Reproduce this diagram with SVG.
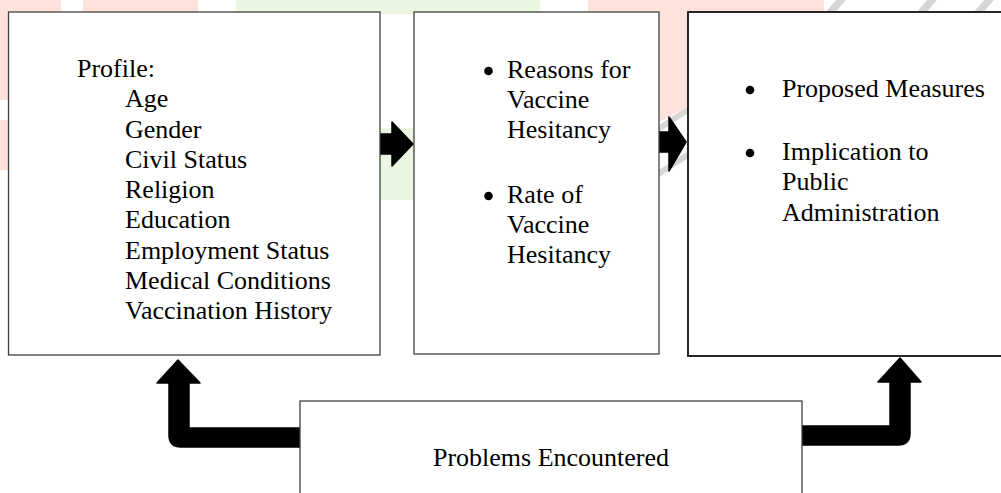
<svg xmlns="http://www.w3.org/2000/svg" width="1001" height="493" viewBox="0 0 1001 493">
<style>
.box{fill:#fff;stroke:#404040;stroke-width:1.3}
.box3{fill:#fff;stroke:#111;stroke-width:1.8}
.t{font-family:"Liberation Serif","Times New Roman",serif;font-size:26px;fill:#000}
.b{fill:#000}
.arr{fill:#000;stroke:#000;stroke-width:1.5;stroke-linejoin:round}
.wp{fill:#ffe1dc}.wg{fill:#ebf6e1}.wgr{fill:#d6d6d6}
</style>
<g id="watermark">
<rect class="wp" x="0" y="0" width="61" height="14"/>
<rect class="wp" x="83" y="0" width="115" height="14"/>
<rect class="wp" x="0" y="0" width="9" height="100"/>
<rect class="wp" x="0" y="120" width="9" height="50"/>
<path class="wg" d="M236,0 L540,0 L540,14 L236,14 Z"/>
<rect class="wg" x="380" y="128" width="34" height="72"/>
<path class="wp" d="M588,0 L824,0 L824,14 L700,14 L700,100 L659,122 L659,14 L588,14 Z"/>
<path class="wgr" d="M824,14 L834,14 L846,0 L836,0 Z"/>
<path class="wgr" d="M915,14 L925,14 L937,0 L927,0 Z"/>
<path class="wgr" d="M972,14 L982,14 L994,0 L984,0 Z"/>
<path class="wgr" d="M659,125 L690,105 L690,112 L659,132 Z"/>
<path class="wgr" d="M659,170 L690,150 L690,157 L659,177 Z"/>
</g>
<g id="connectors">
<polygon class="arr" points="380,134 392,134 392,122 413,144 392,166 392,154 380,154"/>
<polygon class="arr" points="659,132 669,132 669,117 686,142 669,171 669,152 659,152"/>
<path class="arr" d="M300,428 L189,428 L189,383 L200,383 L178,360 L157,383 L169,383 L169,435 Q169,447 181,447 L300,447 Z"/>
<path class="arr" d="M802,426 L890,426 L890,382 L878,382 L900,358 L921,382 L910,382 L910,433 Q910,445 898,445 L802,445 Z"/>
</g>
<g id="node-profile">
<rect class="box" x="8.5" y="12" width="371.5" height="343"/>
<text class="t" x="77" y="77">Profile:</text>
<text class="t" x="125" y="107.2">Age</text>
<text class="t" x="125" y="137.5">Gender</text>
<text class="t" x="125" y="167.8">Civil Status</text>
<text class="t" x="125" y="198.1">Religion</text>
<text class="t" x="125" y="228.4">Education</text>
<text class="t" x="125" y="258.7">Employment Status</text>
<text class="t" x="125" y="289">Medical Conditions</text>
<text class="t" x="125" y="319.3">Vaccination History</text>
</g>
<g id="node-hesitancy">
<rect class="box" x="414" y="12" width="245" height="342"/>
<circle class="b" cx="488.5" cy="71" r="4.3"/>
<text class="t" x="507" y="78">Reasons for</text>
<text class="t" x="507" y="108">Vaccine</text>
<text class="t" x="507" y="138">Hesitancy</text>
<circle class="b" cx="488.5" cy="196" r="4.3"/>
<text class="t" x="507" y="203">Rate of</text>
<text class="t" x="507" y="233">Vaccine</text>
<text class="t" x="507" y="263">Hesitancy</text>
</g>
<g id="node-measures">
<rect class="box3" x="688" y="12" width="316" height="344"/>
<circle class="b" cx="750" cy="90" r="4.3"/>
<text class="t" x="782" y="97">Proposed Measures</text>
<circle class="b" cx="750" cy="153" r="4.3"/>
<text class="t" x="782" y="160">Implication to</text>
<text class="t" x="782" y="190">Public</text>
<text class="t" x="782" y="221">Administration</text>
</g>
<g id="node-problems">
<rect class="box" x="300" y="401" width="502" height="110"/>
<text class="t" x="551" y="466" text-anchor="middle">Problems Encountered</text>
</g>
</svg>
